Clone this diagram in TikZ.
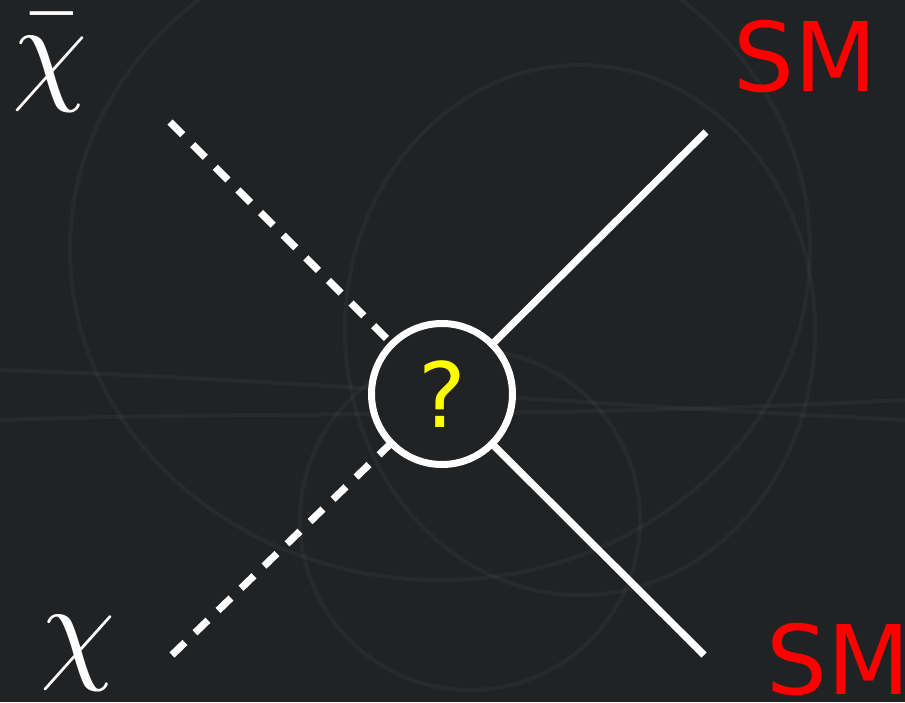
\documentclass[tikz,border=0pt]{standalone}
\usepackage{fontspec}
\usepackage{unicode-math}
\setmathfont{Latin Modern Math}
\newfontfamily\labelfont{DejaVu Sans}
\usetikzlibrary{positioning}
\definecolor{bgdark}{RGB}{33,34,35}
\definecolor{smred}{RGB}{255,0,0}
\definecolor{qyellow}{RGB}{255,255,0}

\begin{document}
\begin{tikzpicture}[
      x=0.5pt, y=-0.5pt,
      scalar/.style  = {draw=white, line width=3.6pt, dash pattern=on 9pt off 7pt},
      fermion/.style = {draw=white, line width=3.6pt},
      vertex/.style  = {circle, draw=white, line width=3.5pt, fill=bgdark,
                        minimum size=70.5pt, inner sep=0pt,
                        text=qyellow, font=\labelfont\fontsize{45}{45}\selectfont},
      particle/.style = {anchor=base, text=white, inner sep=0pt,
                         font=\fontsize{60}{60}\selectfont},
      smlbl/.style   = {text=smred, inner sep=0pt,
                        font=\labelfont\fontsize{48}{48}\selectfont},
      field/.style   = {draw=white, opacity=0.035, line width=2pt}
    ]

      % ===================== Background =====================
      \fill[bgdark] (0,0) rectangle (905,702);
      \useasboundingbox (0,0) rectangle (905,702);
      \draw[field] (440,250) ellipse (370 and 330);
      \draw[field] (580,330) ellipse (235 and 265);
      \draw[field] (470,520) ellipse (170 and 170);
      \draw[field] (0,370) .. controls (300,380) and (500,400) .. (905,420);
      \draw[field] (0,420) .. controls (300,410) and (500,420) .. (905,400);

      % ===================== Vertex =====================
      \node[vertex] (blob) at (442,394) {?};

      % ===================== External legs =====================
      \coordinate (chibarend) at (170,122);
      \coordinate (chiend)    at (172,655);
      \coordinate (smtopend)  at (706,132);
      \coordinate (smbotend)  at (704,655);

      \draw[scalar]  (chibarend) -- (blob);
      \draw[scalar]  (chiend)    -- (blob);
      \draw[fermion] (blob) -- (smtopend);
      \draw[fermion] (blob) -- (smbotend);

      % ===================== Labels =====================
      \node[particle] (chibar) at (50,88)  {$\bar{\chi}$};
      \node[particle] (chi)    at (78,667) {$\chi$};
      \node[smlbl] (smtop) at (805,57)  {SM};
      \node[smlbl] (smbot) at (838,660) {SM};

    \end{tikzpicture}
\end{document}
